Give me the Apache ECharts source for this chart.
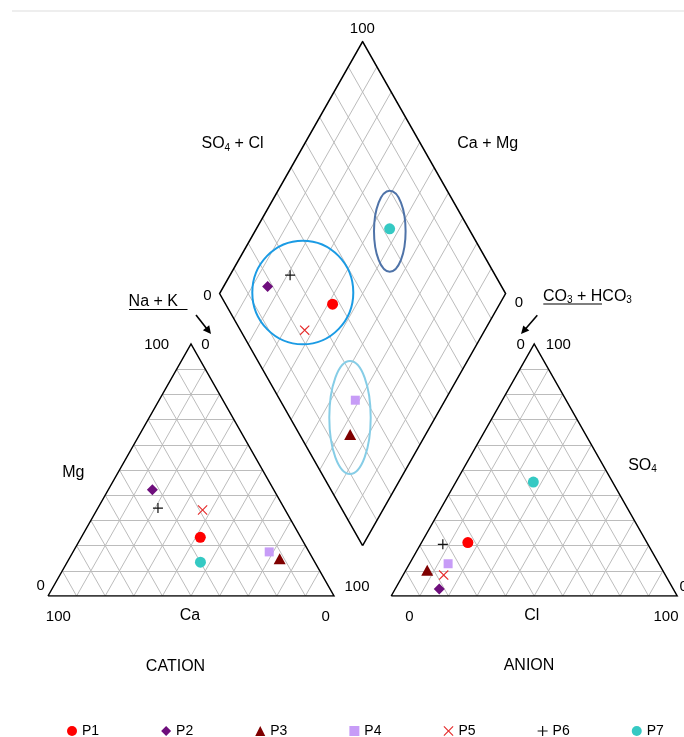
<!DOCTYPE html>
<html>
<head>
<meta charset="utf-8">
<script src="https://cdn.jsdelivr.net/npm/echarts@6/dist/echarts.min.js"></script>
<style>
  html, body { margin: 0; padding: 0; background: #fff; }
  #piper { width: 684px; height: 737px; }
</style>
</head>
<body>
<div id="piper"></div>
<script>
const samples = ['P1', 'P2', 'P3', 'P4', 'P5', 'P6', 'P7'];
// cations (% meq/l)
const ca  = [35.1, 42.4, 11.6, 13.9, 28.9, 44.1, 40.0];
const mg  = [23.3, 42.2, 14.8, 17.5, 34.1, 34.9, 13.4];
const naK = [41.6, 15.4, 73.6, 68.6, 37.0, 21.0, 46.6];
// anions (% meq/l)
const hco3 = [62.6, 81.8, 82.3, 73.7, 77.5, 71.7, 27.7];
const so4  = [21.2,  2.8, 10.2, 12.8,  8.3, 20.5, 45.2];
const cl   = [16.2, 15.4,  7.5, 13.5, 14.2,  7.8, 27.1];
const gridTicks = [10, 20, 30, 40, 50, 60, 70, 80, 90];

const FONT = '"Liberation Sans", Arial, sans-serif';
const xPath = 'path://M0.8,0 L5,4.2 L9.2,0 L10,0.8 L5.8,5 L10,9.2 L9.2,10 L5,5.8 L0.8,10 L0,9.2 L4.2,5 L0,0.8 Z';
const plusPath = 'path://M4.4,0 H5.6 V4.4 H10 V5.6 H5.6 V10 H4.4 V5.6 H0 V4.4 H4.4 Z';
const markers = [
    { symbol: 'circle',   size: 11,      color: '#ff0000' },
    { symbol: 'diamond',  size: 11,      color: '#6e0e7c' },
    { symbol: 'triangle', size: [12, 11], color: '#7f0000' },
    { symbol: 'rect',     size: 9,       color: '#c79cf7' },
    { symbol: xPath,      size: 10,      color: '#e52b2b' },
    { symbol: plusPath,   size: 10,      color: '#111111' },
    { symbol: 'circle',   size: 11,      color: '#35c9c3' }
];

// plot units: triangle side = 100, cation at x 0..100, anion at x 120..220, diamond between
function cationPt(i) { return [naK[i] + mg[i] / 2, mg[i]]; }
function anionPt(i) { return [120 + cl[i] + so4[i] / 2, so4[i]]; }
function diamondPt(i) {
    let cm = ca[i] + mg[i];
    let sc = so4[i] + cl[i];
    return [110 + sc / 2 - cm / 2, 20 + sc + cm];
}

function triGrid(x0) {
    let out = [];
    gridTicks.forEach(k => {
        out.push({ coords: [[x0 + k / 2, k], [x0 + 100 - k / 2, k]] });
        out.push({ coords: [[x0 + k, 0], [x0 + k + (100 - k) / 2, 100 - k]] });
        out.push({ coords: [[x0 + 100 - k, 0], [x0 + (100 - k) / 2, 100 - k]] });
    });
    return out;
}
function diamondGrid() {
    let out = [];
    gridTicks.forEach(k => {
        out.push({ coords: [[110 + k / 2, 20 + k], [60 + k / 2, 120 + k]] });
        out.push({ coords: [[110 - k / 2, 20 + k], [160 - k / 2, 120 + k]] });
    });
    return out;
}

const gridLines = triGrid(0).concat(triGrid(120), diamondGrid());
const outlines = [
    { coords: [[0, 0], [100, 0], [50, 100], [0, 0]] },
    { coords: [[120, 0], [220, 0], [170, 100], [120, 0]] },
    { coords: [[110, 20], [160, 120], [110, 220], [60, 120], [110, 20]] }
];

function lab(text, x, y, size, align) {
    return {
        type: 'text', z: 5,
        style: { text: text, x: x, y: y, fill: '#000', font: size + 'px ' + FONT,
                 align: align || 'center', verticalAlign: 'middle' }
    };
}
function subLab(text, x, y, align) {
    return {
        type: 'text', z: 5,
        style: {
            text: text, x: x, y: y, fill: '#000', align: align || 'center', verticalAlign: 'middle',
            rich: {
                m: { fontSize: 16, fontFamily: FONT, lineHeight: 18, fill: '#000' },
                s: { fontSize: 10, fontFamily: FONT, lineHeight: 6, verticalAlign: 'bottom', fill: '#000' }
            }
        }
    };
}
function ring(cx, cy, rx, ry, color) {
    return { type: 'ellipse', z: 2, shape: { cx: cx, cy: cy, rx: rx, ry: ry },
             style: { fill: 'none', stroke: color, lineWidth: 2 } };
}

const graphic = [
    { type: 'line', shape: { x1: 12, y1: 11, x2: 684, y2: 11 }, style: { stroke: '#dddddd', lineWidth: 1 } },
    ring(302.8, 292.5, 50.5, 51.8, '#1b9be4'),
    ring(389.8, 231.2, 15.8, 40.5, '#4f73a8'),
    ring(350, 417.5, 20.7, 56.5, '#86cde6'),
    // arrows
    { type: 'line', shape: { x1: 196, y1: 315, x2: 207, y2: 329 }, style: { stroke: '#000', lineWidth: 1.6 } },
    { type: 'polygon', shape: { points: [[211, 334], [202.9, 330.2], [209.2, 325.2]] }, style: { fill: '#000' } },
    { type: 'line', shape: { x1: 537.3, y1: 315.3, x2: 525, y2: 329.5 }, style: { stroke: '#000', lineWidth: 1.6 } },
    { type: 'polygon', shape: { points: [[521, 334], [523.3, 325.4], [529.3, 330.6]] }, style: { fill: '#000' } },
    // underlines
    { type: 'line', shape: { x1: 129, y1: 309.5, x2: 187.5, y2: 309.5 }, style: { stroke: '#000', lineWidth: 1.2 } },
    { type: 'line', shape: { x1: 543.3, y1: 304, x2: 602, y2: 304 }, style: { stroke: '#000', lineWidth: 1.2 } },
    // labels
    lab('100', 362.3, 29.3, 15),
    subLab('{m|SO}{s|4}{m| + Cl}', 232.5, 144),
    lab('Ca + Mg', 487.7, 144, 16),
    lab('0', 207.5, 295.5, 15),
    lab('0', 519, 302.7, 15),
    lab('Na + K', 153.3, 301.7, 16),
    subLab('{m|CO}{s|3}{m| + HCO}{s|3}', 543, 296.3, 'left'),
    lab('100', 156.7, 345, 15),
    lab('0', 205.5, 344.5, 15),
    lab('0', 520.7, 345, 15),
    lab('100', 558.3, 345, 15),
    lab('Mg', 73.3, 472.7, 16),
    subLab('{m|SO}{s|4}', 642.5, 465.5),
    lab('0', 40.7, 586, 15),
    lab('100', 357, 586.5, 15),
    lab('0', 679.5, 586.5, 15, 'left'),
    lab('100', 58.3, 616.7, 15),
    lab('Ca', 190, 616, 16),
    lab('0', 325.7, 616.7, 15),
    lab('0', 409.3, 616.7, 15),
    lab('Cl', 531.7, 615.5, 16),
    lab('100', 666, 616.7, 15),
    lab('CATION', 175.5, 666.7, 16),
    lab('ANION', 529, 666, 16)
];

const series = [
    {
        type: 'lines', coordinateSystem: 'cartesian2d', polyline: false, silent: true, z: 1,
        lineStyle: { color: '#bcbcbc', width: 1, opacity: 1 },
        data: gridLines
    },
    {
        type: 'lines', coordinateSystem: 'cartesian2d', polyline: true, silent: true, z: 1,
        lineStyle: { color: '#000', width: 1.5, opacity: 1 },
        data: outlines
    }
];
samples.forEach((name, i) => {
    series.push({
        name: name,
        type: 'scatter',
        z: 3,
        symbol: markers[i].symbol,
        symbolSize: markers[i].size,
        itemStyle: { color: markers[i].color, opacity: 1 },
        data: [cationPt(i), anionPt(i), diamondPt(i)]
    });
});

const option = {
    animation: false,
    backgroundColor: '#fff',
    grid: { left: 48, top: 41.6, width: 629.2, height: 554.4 },
    xAxis: { type: 'value', min: 0, max: 220, show: false },
    yAxis: { type: 'value', min: 0, max: 220, show: false },
    legend: {
        data: samples,
        left: 62,
        top: 719,
        itemGap: 62,
        itemWidth: 10,
        itemHeight: 10,
        selectedMode: false,
        textStyle: { fontSize: 14, color: '#000', fontFamily: FONT }
    },
    graphic: graphic,
    series: series
};

let myChart = echarts.init(document.getElementById('piper'));
myChart.setOption(option);
</script>
</body>
</html>
